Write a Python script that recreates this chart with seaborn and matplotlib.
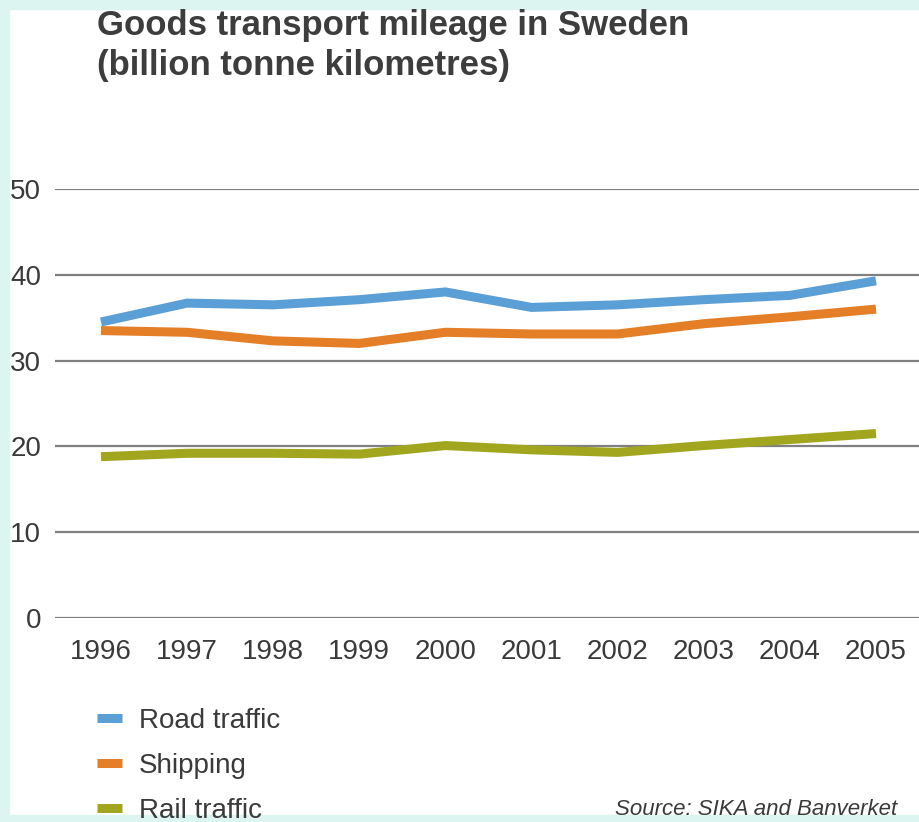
import numpy as np
import pandas as pd
import seaborn as sns
import matplotlib.pyplot as plt
from matplotlib.patches import Rectangle

years = [1996, 1997, 1998, 1999, 2000, 2001, 2002, 2003, 2004, 2005]
road = [34.5, 36.7, 36.5, 37.1, 38.0, 36.2, 36.5, 37.1, 37.6, 39.3]
shipping = [33.5, 33.3, 32.3, 32.0, 33.3, 33.1, 33.1, 34.3, 35.1, 36.0]
rail = [18.8, 19.2, 19.2, 19.1, 20.1, 19.6, 19.3, 20.1, 20.8, 21.5]
series = ['Road traffic', 'Shipping', 'Rail traffic']
colors = ['#5a9fd5', '#e47e27', '#a2a61f']

df = pd.DataFrame({'Year': years * 3,
                   'Value': road + shipping + rail,
                   'Series': [s for s in series for _ in years]})

sns.set_style("white")
plt.rcParams['font.family'] = ['Liberation Sans', 'DejaVu Sans']

W, H = 919, 822
fig = plt.figure(figsize=(W / 100, H / 100), dpi=100)
ax = fig.add_axes([55 / W, 1 - 618 / H, 1 - 55 / W, (618 - 189) / H])

sns.lineplot(data=df, x='Year', y='Value', hue='Series', palette=colors,
             linewidth=6.5, ax=ax, legend=True)
for ln in ax.lines:
    ln.set_solid_capstyle('butt')
    ln.set_solid_joinstyle('miter')

step = 9 / 775
ax.set_xlim(1996 - 46 * step, 2005 + 43 * step)
ax.set_ylim(0, 50)
ax.set_yticks([0, 10, 20, 30, 40, 50])
ax.set_xticks(years)
ax.set_xlabel('')
ax.set_ylabel('')
for s in ax.spines.values():
    s.set_visible(False)
ax.yaxis.grid(True, color='#808080', linewidth=1.6)
ax.set_axisbelow(True)
ax.tick_params(axis='both', length=0, labelsize=20, labelcolor='#3a3a3a')
ax.tick_params(axis='y', pad=10)
ax.tick_params(axis='x', pad=15)

handles, labels = ax.get_legend_handles_labels()
ax.get_legend().remove()
leg = fig.legend(handles, labels, loc='upper left',
                 bbox_to_anchor=(97 / W, 1 - 708 / H), frameon=False,
                 fontsize=20, handlelength=0.9, handletextpad=0.6,
                 labelspacing=0.68, borderpad=0, borderaxespad=0)
for t in leg.get_texts():
    t.set_color('#3a3a3a')
for h in leg.get_lines():
    h.set_linewidth(6.5)
    h.set_solid_capstyle('butt')

fig.text(97 / W, 1 - 35 / H, 'Goods transport mileage in Sweden',
         fontsize=25, fontweight='bold', color='#3d3d3d', ha='left', va='baseline')
fig.text(97 / W, 1 - 75 / H, '(billion tonne kilometres)',
         fontsize=25, fontweight='bold', color='#3d3d3d', ha='left', va='baseline')
fig.text(897 / W, 1 - 815 / H, 'Source: SIKA and Banverket', fontsize=16,
         style='italic', color='#3a3a3a', ha='right', va='baseline')

border = '#dcf5f0'
fig.patches.append(Rectangle((0, 0), 9 / W, 1, transform=fig.transFigure,
                             color=border, zorder=-1))
fig.patches.append(Rectangle((0, 1 - 9 / H), 1, 9 / H, transform=fig.transFigure,
                             color=border, zorder=-1))
fig.patches.append(Rectangle((0, 0), 1, 7 / H, transform=fig.transFigure,
                             color=border, zorder=-1))

fig.savefig('out.png', dpi=100)
